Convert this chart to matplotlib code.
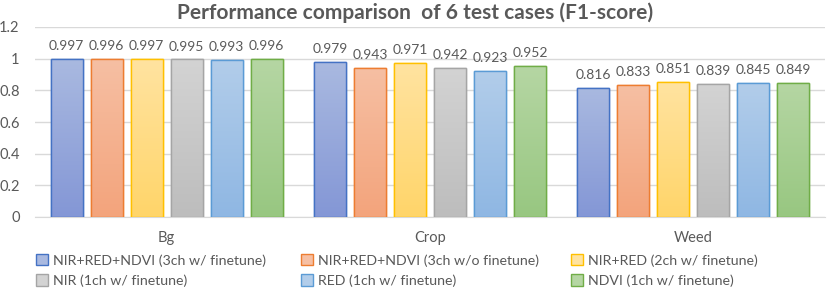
import numpy as np
import matplotlib
matplotlib.use("Agg")
import matplotlib.pyplot as plt
from matplotlib.colors import LinearSegmentedColormap

categories = ["Bg", "Crop", "Weed"]
series_names = [
    "NIR+RED+NDVI (3ch w/ finetune)",
    "NIR+RED+NDVI (3ch w/o finetune)",
    "NIR+RED (2ch w/ finetune)",
    "NIR (1ch w/ finetune)",
    "RED (1ch w/ finetune)",
    "NDVI (1ch w/ finetune)",
]
nir_red_ndvi_ft = [0.997, 0.979, 0.816]
nir_red_ndvi_noft = [0.996, 0.943, 0.833]
nir_red_ft = [0.997, 0.971, 0.851]
nir_ft = [0.995, 0.942, 0.839]
red_ft = [0.993, 0.923, 0.845]
ndvi_ft = [0.996, 0.952, 0.849]
values = [nir_red_ndvi_ft, nir_red_ndvi_noft, nir_red_ft, nir_ft, red_ft, ndvi_ft]
yticks = [0, 0.2, 0.4, 0.6, 0.8, 1, 1.2]

fills_top = ["#a9b9e0", "#f6bfa3", "#ffe3a0", "#d3d3d3", "#b2cdea", "#b5d6a3"]
fills_bot = ["#8497d6", "#f3a47c", "#ffd56a", "#bdbdbd", "#8fb7e3", "#98c781"]
edges = ["#4472c4", "#ed7d31", "#ffc000", "#a5a5a5", "#5b9bd5", "#70ad47"]

plt.rcParams['font.family'] = ['Lato', 'DejaVu Sans']
fig = plt.figure(figsize=(8.3, 2.92), dpi=100)
ax = fig.add_axes([35/830, 1-217/292, 790/830, 190/292])

x = np.arange(len(categories))
w = 0.1217
step = 0.152
txtc = "#595959"
handles = []
for i, (vals, name) in enumerate(zip(values, series_names)):
    off = (i - 2.5) * step
    bars = ax.bar(x + off, vals, w, color=fills_bot[i], edgecolor=edges[i],
                  linewidth=1.0, label=name, zorder=3)
    handles.append(bars)
    cmap = LinearSegmentedColormap.from_list("g", [fills_bot[i], fills_top[i]])
    grad = np.linspace(0, 1, 64).reshape(-1, 1)
    for b, v in zip(bars, vals):
        bx, by = b.get_x(), b.get_y()
        bw, bh = b.get_width(), b.get_height()
        im = ax.imshow(grad, cmap=cmap, aspect='auto', origin='lower',
                       extent=[bx, bx + bw, by, by + bh], zorder=3.5)
        im.set_clip_path(b)
        edge = plt.Rectangle((bx, by), bw, bh, fill=False, edgecolor=edges[i],
                             linewidth=1.0, zorder=4)
        ax.add_patch(edge)
        ax.annotate(f"{v:.3f}", (bx + bw / 2, v), xytext=(0, 5),
                    textcoords="offset points", ha="center", va="bottom",
                    fontsize=10, color=txtc, zorder=5)

ax.set_xlim(-0.5, 2.5)
ax.set_ylim(0, 1.2)
ax.set_yticks(yticks)
ax.set_yticklabels([f"{t:g}" for t in yticks], color=txtc, fontsize=10.5)
ax.set_xticks(x)
ax.set_xticklabels(categories, color=txtc, fontsize=10.5)
ax.tick_params(axis='both', length=0)
ax.tick_params(axis='x', pad=10)
ax.tick_params(axis='y', pad=11)
ax.grid(axis='y', color="#d9d9d9", linewidth=1, zorder=0)
for s in ["top", "right", "left"]:
    ax.spines[s].set_visible(False)
ax.spines["bottom"].set_color("#d9d9d9")
ax.set_axisbelow(True)

fig.text(0.5, 1 - 13/292, "Performance comparison  of 6 test cases (F1-score)",
         ha="center", va="center", fontsize=15, fontweight="bold", color=txtc)

col_x = [36, 301, 571]
for c in range(3):
    hs = [handles[c], handles[c + 3]]
    ls = [series_names[c], series_names[c + 3]]
    leg = fig.legend(hs, ls, loc="upper left",
                     bbox_to_anchor=(col_x[c]/830, 1 - 254/292), frameon=False,
                     fontsize=10.2, labelcolor=txtc, handlelength=0.85,
                     handleheight=0.85, handletextpad=0.35, labelspacing=0.55,
                     borderaxespad=0.0, borderpad=0.0)
    for h, k in zip(leg.legend_handles, [c, c + 3]):
        h.set_facecolor(fills_top[k])

fig.savefig("out.png", dpi=100)
